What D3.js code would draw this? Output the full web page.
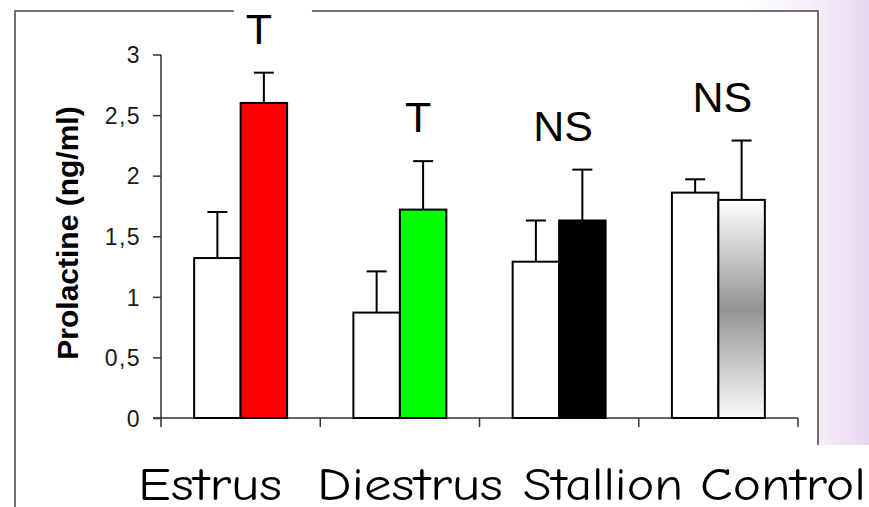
<!DOCTYPE html>
<html>
<head>
<meta charset="utf-8">
<script src="https://cdn.jsdelivr.net/npm/d3@7"></script>
<style>
  html, body { margin: 0; padding: 0; background: #ffffff; }
  svg { display: block; }
</style>
</head>
<body>
<svg id="chart" width="869" height="507"></svg>
<script>
// Prolactin levels (ng/ml) before and after stimulation, per group
const categories = ["Estrus", "Diestrus", "Stallion", "Control"];
const seriesKeys = ["basal", "stimulated"];
const basal = [1.32, 0.87, 1.29, 1.86];
const basalErr = [0.38, 0.34, 0.34, 0.11];
const stimulated = [2.60, 1.72, 1.63, 1.80];
const stimulatedErr = [0.25, 0.40, 0.42, 0.49];
const significance = ["T", "T", "NS", "NS"];
const yTicks = [0, 0.5, 1, 1.5, 2, 2.5, 3];
const yTickLabels = ["0", "0,5", "1", "1,5", "2", "2,5", "3"];
const yTitle = "Prolactine (ng/ml)";

const W = 869, H = 507;
const svg = d3.select("#chart");
const defs = svg.append("defs");

// Lavender slide background on the right edge
const bg = defs.append("linearGradient").attr("id", "slideBg")
  .attr("x1", "0").attr("x2", "1").attr("y1", "0").attr("y2", "0");
bg.append("stop").attr("offset", "0").attr("stop-color", "#ffffff");
bg.append("stop").attr("offset", "0.55").attr("stop-color", "#f6f0fa");
bg.append("stop").attr("offset", "1").attr("stop-color", "#e7d8f1");

// Vertical grey band used for the control group's stimulated bar
const gray = defs.append("linearGradient").attr("id", "grayBand")
  .attr("x1", "0").attr("x2", "0").attr("y1", "0").attr("y2", "1");
gray.append("stop").attr("offset", "0").attr("stop-color", "#ffffff");
gray.append("stop").attr("offset", "0.5").attr("stop-color", "#949494");
gray.append("stop").attr("offset", "1").attr("stop-color", "#fbfbfb");

svg.append("rect").attr("x", 740).attr("y", 0).attr("width", W - 740).attr("height", 445)
  .attr("fill", "url(#slideBg)");

// White frame of the chart panel
svg.append("rect").attr("x", 15).attr("y", 11).attr("width", 803).attr("height", H - 11)
  .attr("fill", "#ffffff");
svg.append("path")
  .attr("d", "M15," + H + "V11H818V445")
  .attr("fill", "none").attr("stroke", "#444").attr("stroke-width", 1.5);

// Scales
const plotLeft = 161, plotRight = 798;
const y = d3.scaleLinear().domain([0, 3]).range([418, 54.5]);
const x0 = d3.scaleBand().domain(categories).range([plotLeft, plotRight]).padding(0);
const x1 = d3.scaleBand().domain(seriesKeys).range([0, x0.bandwidth()])
  .paddingInner(0).paddingOuter(0.713);
const stimFill = d3.scaleOrdinal().domain(categories)
  .range(["#ff0000", "#00ff00", "#000000", "url(#grayBand)"]);

const rows = categories.map((c, i) => ({
  category: c,
  sig: significance[i],
  bars: [
    { key: "basal", value: basal[i], err: basalErr[i], category: c },
    { key: "stimulated", value: stimulated[i], err: stimulatedErr[i], category: c }
  ]
}));

// Significance label positions (white text boxes sit behind them)
const labelPos = rows.map(r => {
  const top = d3.max(r.bars, b => b.value + b.err);
  const cx = r.sig === "T"
    ? x0(r.category) + x1("stimulated") + x1.bandwidth() / 2 - 5
    : x0(r.category) + x0.bandwidth() / 2 + 4;
  return { sig: r.sig, x: cx, y: y(top) - 29 };
});
svg.append("g").selectAll("rect").data(labelPos).join("rect")
  .attr("x", d => d.x - 25).attr("y", d => d.y - 44)
  .attr("width", 78).attr("height", 50)
  .attr("fill", "#ffffff");

// Y axis
const yAxis = svg.append("g")
  .attr("transform", `translate(${plotLeft},0)`)
  .call(d3.axisLeft(y).tickValues(yTicks)
    .tickFormat((d, i) => yTickLabels[i]).tickSize(8).tickPadding(12));
yAxis.select(".domain").remove();
yAxis.selectAll(".tick line").attr("stroke", "#333").attr("stroke-width", 1.5);
yAxis.selectAll(".tick text")
  .attr("fill", "#1a1a1a")
  .style("font-family", "'Liberation Sans', Arial, sans-serif")
  .style("font-size", "23px")
  .style("letter-spacing", "1.4px")
  .attr("dy", "0.36em");
svg.append("line")
  .attr("x1", plotLeft).attr("x2", plotLeft)
  .attr("y1", y(3)).attr("y2", y(0) + 9)
  .attr("stroke", "#333").attr("stroke-width", 1.5);

// X axis with ticks at category boundaries
svg.append("line")
  .attr("x1", plotLeft - 8).attr("x2", plotRight)
  .attr("y1", y(0)).attr("y2", y(0))
  .attr("stroke", "#333").attr("stroke-width", 1.5);
svg.append("g").selectAll("line")
  .data(categories.map(c => x0(c) + x0.step()))
  .join("line")
  .attr("x1", d => d).attr("x2", d => d)
  .attr("y1", y(0)).attr("y2", y(0) + 9)
  .attr("stroke", "#333").attr("stroke-width", 1.5);

// Error bars (upper whisker only)
const capW = 20;
const groups = svg.append("g").selectAll("g").data(rows).join("g")
  .attr("transform", d => `translate(${x0(d.category)},0)`);
const err = groups.selectAll("g.err").data(d => d.bars).join("g").attr("class", "err");
err.append("line")
  .attr("x1", d => x1(d.key) + x1.bandwidth() / 2)
  .attr("x2", d => x1(d.key) + x1.bandwidth() / 2)
  .attr("y1", d => y(d.value)).attr("y2", d => y(d.value + d.err))
  .attr("stroke", "#000").attr("stroke-width", 2);
err.append("line")
  .attr("x1", d => x1(d.key) + x1.bandwidth() / 2 - capW / 2)
  .attr("x2", d => x1(d.key) + x1.bandwidth() / 2 + capW / 2)
  .attr("y1", d => y(d.value + d.err)).attr("y2", d => y(d.value + d.err))
  .attr("stroke", "#000").attr("stroke-width", 2);

// Bars
groups.selectAll("rect.bar").data(d => d.bars).join("rect")
  .attr("class", "bar")
  .attr("x", d => x1(d.key))
  .attr("width", x1.bandwidth())
  .attr("y", d => y(d.value))
  .attr("height", d => y(0) - y(d.value))
  .attr("fill", d => d.key === "basal" ? "#ffffff" : stimFill(d.category))
  .attr("stroke", "#000").attr("stroke-width", 2);

// Significance labels
svg.append("g").selectAll("text").data(labelPos).join("text")
  .attr("x", d => d.x).attr("y", d => d.y)
  .attr("text-anchor", "middle")
  .style("font-family", "'Liberation Sans', Arial, sans-serif")
  .style("font-size", "43px")
  .attr("fill", "#000")
  .text(d => d.sig);

// Y axis title
svg.append("text")
  .attr("transform", "translate(78,233) rotate(-90)")
  .attr("text-anchor", "middle")
  .style("font-family", "'Liberation Sans', Arial, sans-serif")
  .style("font-size", "30px")
  .style("font-weight", "bold")
  .attr("fill", "#000")
  .text(yTitle);

// Group names along the bottom of the slide
const wordStart = [138, 317, 523, 700];
const wordWidth = [144, 186, 160, 166];
svg.append("g").selectAll("text").data(categories).join("text")
  .attr("x", (d, i) => wordStart[i])
  .attr("y", 500)
  .attr("textLength", (d, i) => wordWidth[i])
  .attr("lengthAdjust", "spacingAndGlyphs")
  .style("font-family", "'Comic Sans MS', 'Comic Neue', 'DejaVu Sans', sans-serif")
  .style("font-size", "47px")
  .attr("fill", "#000")
  .text(d => d);
</script>
</body>
</html>
